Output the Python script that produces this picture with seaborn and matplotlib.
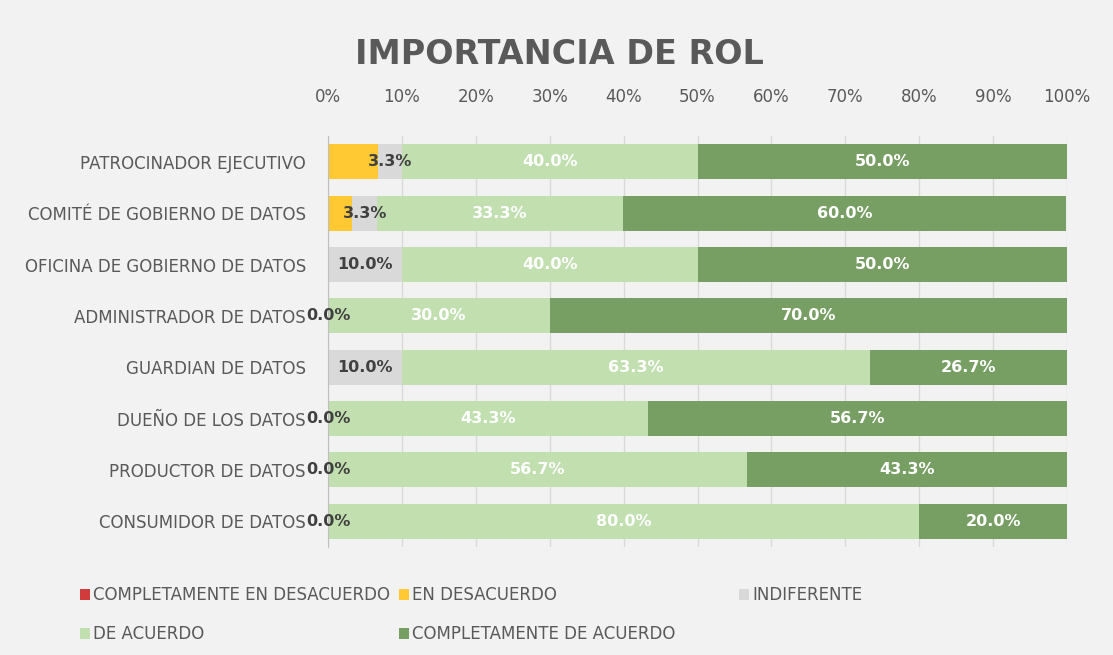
import numpy as np
import pandas as pd
import matplotlib
matplotlib.use("Agg")
import matplotlib.pyplot as plt
import seaborn as sns
from matplotlib.patches import Patch

# datos (porcentajes por rol)
roles = ["PATROCINADOR EJECUTIVO", "COMITÉ DE GOBIERNO DE DATOS",
         "OFICINA DE GOBIERNO DE DATOS", "ADMINISTRADOR DE DATOS",
         "GUARDIAN DE DATOS", "DUEÑO DE LOS DATOS",
         "PRODUCTOR DE DATOS", "CONSUMIDOR DE DATOS"]
series = ["COMPLETAMENTE EN DESACUERDO", "EN DESACUERDO", "INDIFERENTE",
          "DE ACUERDO", "COMPLETAMENTE DE ACUERDO"]
comp_desacuerdo = [0.0, 0.0, 0.0, 0.0, 0.0, 0.0, 0.0, 0.0]
desacuerdo = [6.7, 3.3, 0.0, 0.0, 0.0, 0.0, 0.0, 0.0]
indiferente = [3.3, 3.3, 10.0, 0.0, 10.0, 0.0, 0.0, 0.0]
de_acuerdo = [40.0, 33.3, 40.0, 30.0, 63.3, 43.3, 56.7, 80.0]
comp_acuerdo = [50.0, 60.0, 50.0, 70.0, 26.7, 56.7, 43.3, 20.0]
xticks = [0, 10, 20, 30, 40, 50, 60, 70, 80, 90, 100]

colores = ["#d13b3b", "#ffc933", "#d9d9d9", "#c2dfb0", "#779f63"]
txt = "#595959"

valores = np.array([comp_desacuerdo, desacuerdo, indiferente, de_acuerdo, comp_acuerdo])
acum = np.cumsum(valores, axis=0)

fig = plt.figure(figsize=(11.13, 6.55), dpi=100, facecolor="#f2f2f2")
ax = fig.add_axes([0.2947, 0.165, 0.664, 0.627])
ax.set_facecolor("#f2f2f2")

# barras apiladas: se dibuja el acumulado de mayor a menor
for i in range(len(series) - 1, -1, -1):
    df = pd.DataFrame({"rol": roles, "valor": acum[i]})
    sns.barplot(data=df, x="valor", y="rol", orient="h", color=colores[i],
                width=0.68, saturation=1, ax=ax, zorder=2)

# etiquetas de datos (indiferente, de acuerdo, completamente de acuerdo)
for i, c in [(2, "#404040"), (3, "white"), (4, "white")]:
    for j in range(len(roles)):
        centro = acum[i][j] - valores[i][j] / 2
        ax.text(centro, j, f"{valores[i][j]:.1f}%", ha="center", va="center",
                fontsize=11.5, fontweight="bold", color=c, zorder=5)

ax.set_xlim(0, 100)
ax.set_xticks(xticks)
ax.set_xticklabels([f"{t}%" for t in xticks])
ax.xaxis.tick_top()
ax.tick_params(axis="x", length=0, pad=22, labelsize=12, labelcolor=txt)
ax.tick_params(axis="y", length=0, pad=16, labelsize=12, labelcolor=txt)
ax.grid(axis="x", color="#d9d9d9", linewidth=1, zorder=0)
ax.set_axisbelow(True)
ax.set_xlabel("")
ax.set_ylabel("")
for s in ["top", "right", "bottom"]:
    ax.spines[s].set_visible(False)
ax.spines["left"].set_color("#bfbfbf")

fig.text(0.503, 0.917, "IMPORTANCIA DE ROL", ha="center", va="center",
         fontsize=24, fontweight="bold", color=txt)

# leyenda: dos columnas + INDIFERENTE aparte
orden = [0, 3, 1, 4]
handles = [Patch(facecolor=colores[k], edgecolor="none") for k in orden]
labels = [series[k] for k in orden]
kw = dict(loc="upper left", frameon=False, fontsize=12, labelcolor=txt,
          handlelength=0.6, handleheight=0.6, handletextpad=0.2,
          labelspacing=1.25, borderaxespad=0)
ley1 = fig.legend(handles, labels, bbox_to_anchor=(0.066, 0.115), ncol=2,
                  columnspacing=0.5, **kw)
fig.legend([Patch(facecolor=colores[2], edgecolor="none")], [series[2]],
           bbox_to_anchor=(0.658, 0.115), **kw)

fig.savefig("out.png", dpi=100, facecolor=fig.get_facecolor())
